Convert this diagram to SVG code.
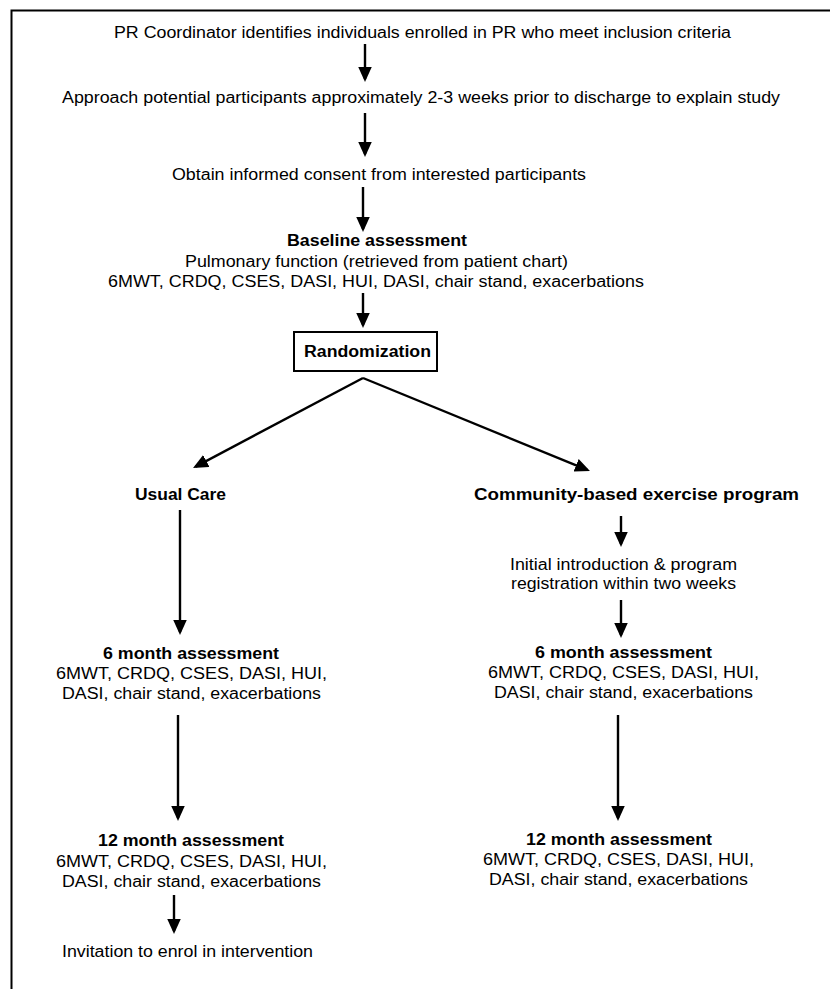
<svg xmlns="http://www.w3.org/2000/svg" width="830" height="989" viewBox="0 0 830 989">
<style>
text{font-family:"Liberation Sans",Arial,sans-serif;font-size:16px;fill:#000;text-anchor:middle}
.b{font-weight:bold}
.conn line{stroke:#000;stroke-width:2.4;marker-end:url(#ah)}
.frame{fill:none;stroke:#000;stroke-width:2}
.box{fill:#fff;stroke:#000;stroke-width:2}
</style>
<defs>
<marker id="ah" markerUnits="userSpaceOnUse" markerWidth="17" markerHeight="15" refX="12" refY="6.75" orient="auto">
<path d="M0,0 L15,6.75 L0,13.5 z" fill="#000"/>
</marker>
</defs>
<rect width="830" height="989" fill="#fff"/>
<path class="frame" d="M11.5,995 V10.5 H835"/>

<g id="conns" class="conn">
<line x1="365" y1="44" x2="365" y2="79"/>
<line x1="365" y1="113" x2="365" y2="154"/>
<line x1="363" y1="187" x2="363" y2="229"/>
<line x1="363" y1="293" x2="363" y2="325"/>
<line x1="363" y1="378" x2="195.7" y2="466.6"/>
<line x1="363" y1="378" x2="587.2" y2="469.9"/>
<line x1="180" y1="510" x2="180" y2="632"/>
<line x1="621" y1="516" x2="621" y2="544"/>
<line x1="621" y1="600" x2="621" y2="635"/>
<line x1="178" y1="715" x2="178" y2="818"/>
<line x1="618" y1="715" x2="618" y2="818"/>
<line x1="174" y1="895" x2="174" y2="931"/>
</g>

<g id="n1"><text x="422.5" y="38" textLength="617" lengthAdjust="spacingAndGlyphs">PR Coordinator identifies individuals enrolled in PR who meet inclusion criteria</text></g>
<g id="n2"><text x="421" y="103" textLength="718" lengthAdjust="spacingAndGlyphs">Approach potential participants approximately 2-3 weeks prior to discharge to explain study</text></g>
<g id="n3"><text x="379" y="180" textLength="414" lengthAdjust="spacingAndGlyphs">Obtain informed consent from interested participants</text></g>
<g id="n4">
<text class="b" x="377" y="246" textLength="180" lengthAdjust="spacingAndGlyphs">Baseline assessment</text>
<text x="376.5" y="267" textLength="383" lengthAdjust="spacingAndGlyphs">Pulmonary function (retrieved from patient chart)</text>
<text x="376" y="287" textLength="536" lengthAdjust="spacingAndGlyphs">6MWT, CRDQ, CSES, DASI, HUI, DASI, chair stand, exacerbations</text>
</g>
<g id="n5">
<rect class="box" x="294" y="332" width="143" height="39"/>
<text class="b" x="367.5" y="357" textLength="127" lengthAdjust="spacingAndGlyphs">Randomization</text>
</g>
<g id="n6"><text class="b" x="180.5" y="500" textLength="91" lengthAdjust="spacingAndGlyphs">Usual Care</text></g>
<g id="n7"><text class="b" x="636.5" y="500" textLength="325" lengthAdjust="spacingAndGlyphs">Community-based exercise program</text></g>
<g id="n8">
<text x="623.5" y="570" textLength="227" lengthAdjust="spacingAndGlyphs">Initial introduction &amp; program</text>
<text x="623.5" y="589" textLength="225" lengthAdjust="spacingAndGlyphs">registration within two weeks</text>
</g>
<g id="n9">
<text class="b" x="191" y="659" textLength="176" lengthAdjust="spacingAndGlyphs">6 month assessment</text>
<text x="191.5" y="679" textLength="271" lengthAdjust="spacingAndGlyphs">6MWT, CRDQ, CSES, DASI, HUI,</text>
<text x="191.5" y="699" textLength="259" lengthAdjust="spacingAndGlyphs">DASI, chair stand, exacerbations</text>
</g>
<g id="n10">
<text class="b" x="623.5" y="658" textLength="177" lengthAdjust="spacingAndGlyphs">6 month assessment</text>
<text x="623.5" y="678" textLength="271" lengthAdjust="spacingAndGlyphs">6MWT, CRDQ, CSES, DASI, HUI,</text>
<text x="623.5" y="698" textLength="259" lengthAdjust="spacingAndGlyphs">DASI, chair stand, exacerbations</text>
</g>
<g id="n11">
<text class="b" x="191" y="846" textLength="186" lengthAdjust="spacingAndGlyphs">12 month assessment</text>
<text x="191.5" y="867" textLength="271" lengthAdjust="spacingAndGlyphs">6MWT, CRDQ, CSES, DASI, HUI,</text>
<text x="191.5" y="887" textLength="259" lengthAdjust="spacingAndGlyphs">DASI, chair stand, exacerbations</text>
</g>
<g id="n12">
<text class="b" x="619" y="845" textLength="186" lengthAdjust="spacingAndGlyphs">12 month assessment</text>
<text x="618.5" y="865" textLength="271" lengthAdjust="spacingAndGlyphs">6MWT, CRDQ, CSES, DASI, HUI,</text>
<text x="618.5" y="885" textLength="259" lengthAdjust="spacingAndGlyphs">DASI, chair stand, exacerbations</text>
</g>
<g id="n13"><text x="187.5" y="957" textLength="251" lengthAdjust="spacingAndGlyphs">Invitation to enrol in intervention</text></g>
</svg>
